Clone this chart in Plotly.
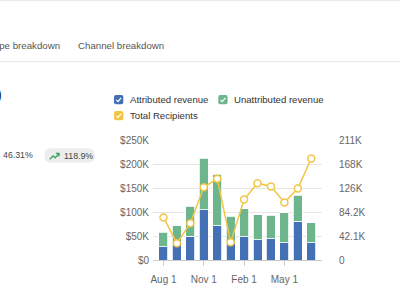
import plotly.graph_objects as go

months = ["Aug 1", "Sep 1", "Oct 1", "Nov 1", "Dec 1", "Jan 1",
          "Feb 1", "Mar 1", "Apr 1", "May 1", "Jun 1", "Jul 1"]
attributed = [28000, 31600, 49600, 104500, 71000, 33700, 48000, 42700, 44000, 35800, 81000, 35800]
unattributed = [30000, 39400, 62400, 107500, 108000, 57300, 58600, 52100, 49400, 62200, 54000, 41700]
recipients = [74600, 29500, 64600, 127700, 142400, 31200, 106000, 134700, 129000, 100900, 125400, 178000]

left_ticks = [0, 50000, 100000, 150000, 200000, 250000]
left_labels = ["$0", "$50K", "$100K", "$150K", "$200K", "$250K"]
right_ticks = [0, 42100, 84200, 126300, 168400, 210500]
right_labels = ["0", "42.1K", "84.2K", "126K", "168K", "211K"]
x_ticks = ["Aug 1", "Nov 1", "Feb 1", "May 1"]

BLUE = "#4470B5"
GREEN = "#6DB58C"
YELLOW = "#F2C544"
FONT = "Liberation Sans, Arial, sans-serif"

# plot area in pixels
L, R, T, B = 153, 322, 140, 260
W, H = R - L, B - T


def px(x):
    return (x - L) / W


def py(y):
    return (B - y) / H


def rrect(x0, y0, x1, y1, r):
    pts = (
        f"M{px(x0 + r)},{py(y0)} L{px(x1 - r)},{py(y0)} Q{px(x1)},{py(y0)} {px(x1)},{py(y0 + r)} "
        f"L{px(x1)},{py(y1 - r)} Q{px(x1)},{py(y1)} {px(x1 - r)},{py(y1)} "
        f"L{px(x0 + r)},{py(y1)} Q{px(x0)},{py(y1)} {px(x0)},{py(y1 - r)} "
        f"L{px(x0)},{py(y0 + r)} Q{px(x0)},{py(y0)} {px(x0 + r)},{py(y0)} Z"
    )
    return pts


def polyline(points):
    return "M" + " L".join(f"{px(x)},{py(y)}" for x, y in points)


fig = go.Figure()
fig.add_trace(go.Bar(x=months, y=attributed, name="Attributed revenue",
                     marker=dict(color=BLUE, line=dict(color="white", width=0.8))))
fig.add_trace(go.Bar(x=months, y=unattributed, name="Unattributed revenue",
                     marker=dict(color=GREEN, line=dict(color="white", width=0.8))))
fig.add_trace(go.Scatter(x=months, y=recipients, name="Total Recipients", yaxis="y2",
                         mode="lines+markers",
                         line=dict(color=YELLOW, width=1.5),
                         marker=dict(symbol="circle", size=7, color="white",
                                     line=dict(color=YELLOW, width=1.5))))

shapes = []
annotations = []

# top border and tab underline
shapes.append(dict(type="line", xref="paper", yref="paper", x0=px(0), x1=px(400),
                   y0=py(0.7), y1=py(0.7), line=dict(color="#ebebeb", width=1.2)))
shapes.append(dict(type="line", xref="paper", yref="paper", x0=px(0), x1=px(400),
                   y0=py(61.7), y1=py(61.7), line=dict(color="#ebebeb", width=1.2)))

annotations.append(dict(text="Type breakdown", xref="paper", yref="paper", x=px(60.5), y=py(45.8),
                        xanchor="right", yanchor="middle", showarrow=False, borderpad=0,
                        font=dict(family=FONT, size=9.7, color="#555555")))
annotations.append(dict(text="Channel breakdown", xref="paper", yref="paper", x=px(77), y=py(45.8),
                        xanchor="left", yanchor="middle", showarrow=False, borderpad=0,
                        font=dict(family=FONT, size=9.7, color="#555555")))

# partial heading on the left
annotations.append(dict(text="0)", xref="paper", yref="paper", x=px(3), y=py(94),
                        xanchor="right", yanchor="middle", showarrow=False, borderpad=0,
                        font=dict(family=FONT, size=18, color="#222222")))

# stat + pill
annotations.append(dict(text="46.31%", xref="paper", yref="paper", x=px(1.5), y=py(155.2),
                        xanchor="left", yanchor="middle", showarrow=False, borderpad=0,
                        font=dict(family=FONT, size=8.8, color="#444444")))
shapes.append(dict(type="path", xref="paper", yref="paper", path=rrect(44.3, 148.3, 95, 162.7, 7),
                   fillcolor="#eceeed", line=dict(width=0)))
shapes.append(dict(type="path", xref="paper", yref="paper",
                   path=polyline([(49.8, 159.3), (53.2, 155.8), (55.3, 157.8), (58.8, 153.6)]),
                   line=dict(color="#3a9a5c", width=1.3)))
shapes.append(dict(type="path", xref="paper", yref="paper",
                   path=polyline([(55.8, 153.4), (59, 153.4), (59, 156.5)]),
                   line=dict(color="#3a9a5c", width=1.3)))
annotations.append(dict(text="118.9%", xref="paper", yref="paper", x=px(63.2), y=py(155.5),
                        xanchor="left", yanchor="middle", showarrow=False, borderpad=0,
                        font=dict(family=FONT, size=8.8, color="#444444")))

# custom legend with checkboxes
legend_items = [
    ("Attributed revenue", BLUE, 114, 95),
    ("Unattributed revenue", GREEN, 218.3, 95),
    ("Total Recipients", YELLOW, 114, 111),
]
for label, color, bx, by in legend_items:
    shapes.append(dict(type="path", xref="paper", yref="paper",
                       path=rrect(bx, by, bx + 9.3, by + 9.3, 2), fillcolor=color,
                       line=dict(width=0)))
    shapes.append(dict(type="path", xref="paper", yref="paper",
                       path=polyline([(bx + 2.3, by + 4.9), (bx + 4.0, by + 6.6), (bx + 7.1, by + 2.9)]),
                       line=dict(color="white", width=1.2)))
    annotations.append(dict(text=label, xref="paper", yref="paper", x=px(bx + 14.5), y=py(by + 4.8),
                            xanchor="left", yanchor="middle", showarrow=False, borderpad=0,
                            font=dict(family=FONT, size=9.6, color="#333333")))

fig.update_layout(
    width=400, height=300,
    margin=dict(l=L, r=400 - R, t=T, b=300 - B),
    paper_bgcolor="white", plot_bgcolor="white",
    barmode="stack", bargap=0.33,
    showlegend=False,
    font=dict(family=FONT, size=10, color="#666666"),
    xaxis=dict(type="category", categoryorder="array", categoryarray=months,
               range=[-0.78, 11.8], tickmode="array", tickvals=x_ticks, ticktext=x_ticks,
               showline=True, linecolor="#cccccc", linewidth=1,
               ticks="outside", ticklen=5, tickcolor="#cccccc", tickwidth=1,
               ticklabelstandoff=5,
               showgrid=False, tickfont=dict(size=10, color="#666666")),
    yaxis=dict(range=[0, 250000], tickmode="array", tickvals=left_ticks, ticktext=left_labels,
               showgrid=True, gridcolor="#e6e6e6", gridwidth=1, zeroline=False,
               ticks="", ticklabelstandoff=3, tickfont=dict(size=10, color="#666666")),
    yaxis2=dict(range=[0, 210500], overlaying="y", side="right", tickmode="array",
                tickvals=right_ticks, ticktext=right_labels, showgrid=False, zeroline=False,
                ticks="", ticklabelstandoff=16, tickfont=dict(size=10, color="#666666")),
    shapes=shapes,
    annotations=annotations,
)

fig.write_html("out.html")
